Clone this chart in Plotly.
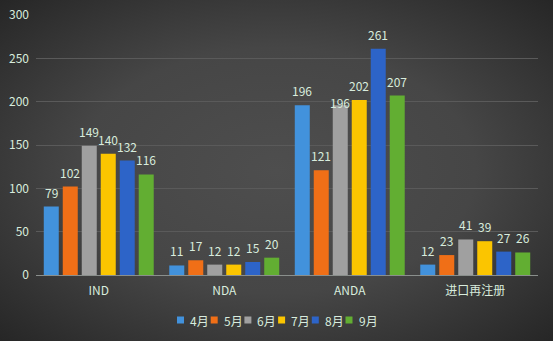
import base64
import plotly.graph_objects as go

categories = ["IND", "NDA", "ANDA", "进口再注册"]
months = ["4月", "5月", "6月", "7月", "8月", "9月"]
values = {
    "4月": [79, 11, 196, 12],
    "5月": [102, 17, 121, 23],
    "6月": [149, 12, 196, 41],
    "7月": [140, 12, 202, 39],
    "8月": [132, 15, 261, 27],
    "9月": [116, 20, 207, 26],
}
colors = ["#4292dc", "#f06f17", "#a0a0a0", "#fbc500", "#2d64c8", "#62ae32"]
y_ticks = [0, 50, 100, 150, 200, 250, 300]

W, H = 553, 341
ML, MR, MT, MB = 36, 15, 15, 66
PW, PH = W - ML - MR, H - MT - MB
BARGAP, BARGROUPGAP = 0.092, 0.21
slot_px = PW / len(categories) * (1 - BARGAP) / len(months)

text_color = "#d8ecdd"
font_family = "Noto Sans CJK SC, Microsoft YaHei, sans-serif"
label_shift = 4
label_nudge = {("6月", "ANDA"): -12}  # reference label placement quirk

fig = go.Figure()
for i, (m, c) in enumerate(zip(months, colors)):
    fig.add_trace(go.Bar(
        name=m, x=categories, y=values[m],
        marker=dict(color=c, line=dict(width=0)),
        showlegend=False,
    ))
    for cat, v in zip(categories, values[m]):
        fig.add_annotation(
            x=cat, y=v, xref="x", yref="y", showarrow=False,
            text=str(v), xanchor="center", yanchor="bottom",
            xshift=(i - (len(months) - 1) / 2) * slot_px,
            yshift=label_shift + label_nudge.get((m, cat), 0),
            font=dict(size=12, color=text_color, family=font_family),
        )

svg = f'''<svg xmlns="http://www.w3.org/2000/svg" width="{W}" height="{H}" viewBox="0 0 {W} {H}" preserveAspectRatio="none">
<defs><radialGradient id="g" cx="50%" cy="50%" r="72%">
<stop offset="0%" stop-color="#4e4e4e"/>
<stop offset="50%" stop-color="#464646"/>
<stop offset="100%" stop-color="#252525"/>
</radialGradient></defs>
<rect width="{W}" height="{H}" fill="url(#g)"/></svg>'''
src = "data:image/svg+xml;base64," + base64.b64encode(svg.encode()).decode()

fig.add_layout_image(dict(
    source=src, xref="paper", yref="paper",
    x=-ML / PW, y=1 + MT / PH, sizex=W / PW, sizey=H / PH,
    xanchor="left", yanchor="top", sizing="stretch", layer="below",
))

# custom legend (layout styling, not data marks)
leg_x0 = 177.0
leg_step = 33.7
leg_yc = 320.0
sq = 7.0
for i, (m, c) in enumerate(zip(months, colors)):
    x0 = leg_x0 + i * leg_step
    fig.add_shape(type="rect", xref="paper", yref="paper",
                  x0=(x0 - ML) / PW, x1=(x0 + sq - ML) / PW,
                  y0=(H - MB - (leg_yc + sq / 2)) / PH, y1=(H - MB - (leg_yc - sq / 2)) / PH,
                  fillcolor=c, line=dict(width=0))
    fig.add_annotation(xref="paper", yref="paper",
                       x=(x0 + sq + 4 - ML) / PW, y=(H - MB - leg_yc) / PH,
                       xanchor="left", yanchor="middle", showarrow=False,
                       text=m, font=dict(size=12, color=text_color, family=font_family))

fig.update_layout(
    width=W, height=H,
    margin=dict(l=ML, r=MR, t=MT, b=MB, autoexpand=False),
    paper_bgcolor="#3a3a3a",
    plot_bgcolor="rgba(0,0,0,0)",
    barmode="group",
    bargap=BARGAP,
    bargroupgap=BARGROUPGAP,
    font=dict(family=font_family, color=text_color, size=11),
    showlegend=False,
    xaxis=dict(showgrid=False, showline=True, linecolor="#8a8f8c", linewidth=1,
               ticks="", tickfont=dict(size=12, color=text_color), ticklabelstandoff=5,
               automargin=False),
    yaxis=dict(range=[0, 300], tickvals=y_ticks, showgrid=True, gridcolor="#5a5a5a",
               gridwidth=1, zeroline=False, showline=False, ticks="",
               tickfont=dict(size=12, color=text_color), ticklabelstandoff=6,
               automargin=False),
)

fig.write_html("out.html")
